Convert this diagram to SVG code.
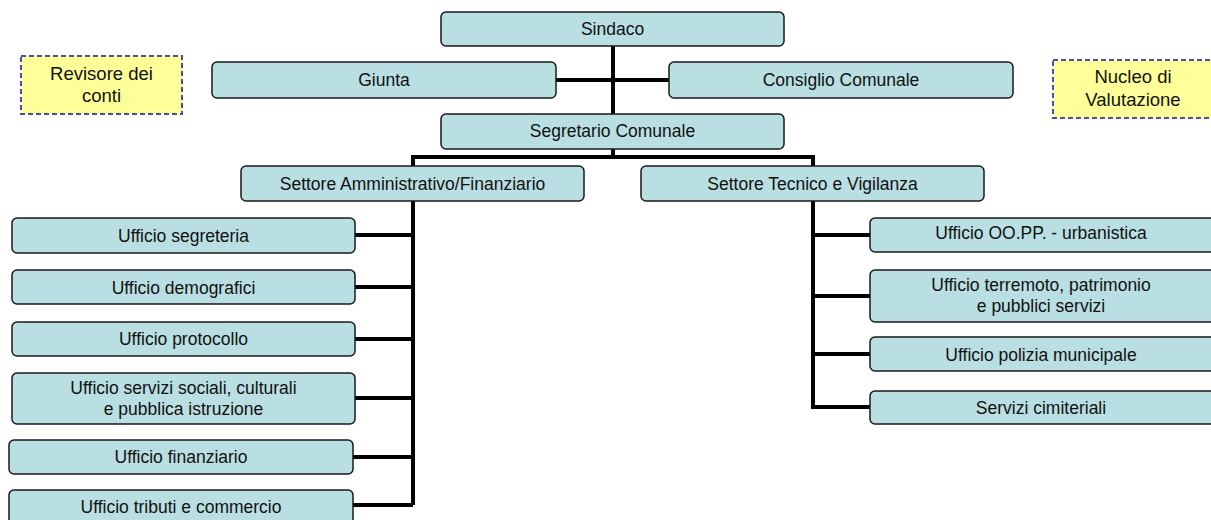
<svg xmlns="http://www.w3.org/2000/svg" width="1211" height="520" viewBox="0 0 1211 520">
<style>
.n{fill:#B9DFE2;stroke:#1a1a1a;stroke-width:1.5}
.y{fill:#FFFF99;stroke:#4B4BA8;stroke-width:2;stroke-dasharray:5,3}
text{font-family:"Liberation Sans",Arial,sans-serif;font-size:17.5px;fill:#111;text-anchor:middle}
.t{font-size:18.5px}
.c{fill:none;stroke:#000;stroke-width:4}
</style>
<rect width="1211" height="520" fill="#fff"/>
<g id="connectors">
<path class="c" d="M613 46V114M556 80H669"/>
<path class="c" d="M613 149V157M413 166V157H813V166"/>
<path class="c" d="M413 201V505M355 235H413M355 287H413M355 339H413M355 398H413M353 457H413M353 505H413"/>
<path class="c" d="M813 201V407H870M813 235H870M813 296H870M813 354H870"/>
</g>
<g id="sindaco"><rect class="n" x="441" y="12" width="343" height="34" rx="5"/><text x="612.5" y="35">Sindaco</text></g>
<g id="giunta"><rect class="n" x="212" y="62" width="344" height="36" rx="5"/><text x="384" y="86">Giunta</text></g>
<g id="consiglio"><rect class="n" x="669" y="62" width="344" height="36" rx="5"/><text x="841" y="86">Consiglio Comunale</text></g>
<g id="segretario"><rect class="n" x="441" y="114" width="343" height="35" rx="5"/><text x="612.5" y="137">Segretario Comunale</text></g>
<g id="revisore"><rect class="y" x="21" y="56" width="161" height="58"/><text class="t" x="101.5" y="80">Revisore dei</text><text class="t" x="101.5" y="102">conti</text></g>
<g id="nucleo"><rect class="y" x="1053" y="60" width="165" height="58"/><text class="t" x="1133" y="83">Nucleo di</text><text class="t" x="1133" y="106">Valutazione</text></g>
<g id="settore-amm"><rect class="n" x="241" y="166" width="343" height="35" rx="5"/><text x="412.5" y="190">Settore Amministrativo/Finanziario</text></g>
<g id="settore-tec"><rect class="n" x="641" y="166" width="343" height="35" rx="5"/><text x="812.5" y="190">Settore Tecnico e Vigilanza</text></g>
<g id="segreteria"><rect class="n" x="12" y="218" width="343" height="35" rx="5"/><text x="183.5" y="242">Ufficio segreteria</text></g>
<g id="demografici"><rect class="n" x="12" y="270" width="343" height="34" rx="5"/><text x="183.5" y="294">Ufficio demografici</text></g>
<g id="protocollo"><rect class="n" x="12" y="322" width="343" height="34" rx="5"/><text x="183.5" y="345">Ufficio protocollo</text></g>
<g id="sociali"><rect class="n" x="12" y="373" width="343" height="51" rx="5"/><text x="183.5" y="394">Ufficio servizi sociali, culturali</text><text x="183.5" y="415">e pubblica  istruzione</text></g>
<g id="finanziario"><rect class="n" x="9" y="440" width="344" height="34" rx="5"/><text x="181" y="463">Ufficio finanziario</text></g>
<g id="tributi"><rect class="n" x="9" y="490" width="344" height="36" rx="5"/><text x="181" y="513">Ufficio tributi e commercio</text></g>
<g id="oopp"><rect class="n" x="870" y="218" width="345" height="34" rx="5"/><text x="1041" y="239">Ufficio OO.PP. - urbanistica</text></g>
<g id="terremoto"><rect class="n" x="870" y="270" width="345" height="52" rx="5"/><text x="1041" y="291">Ufficio terremoto, patrimonio</text><text x="1041" y="312">e pubblici  servizi</text></g>
<g id="polizia"><rect class="n" x="870" y="337" width="345" height="34" rx="5"/><text x="1041" y="361">Ufficio polizia municipale</text></g>
<g id="cimiteriali"><rect class="n" x="870" y="391" width="345" height="33" rx="5"/><text x="1041" y="414">Servizi cimiteriali</text></g>
</svg>
